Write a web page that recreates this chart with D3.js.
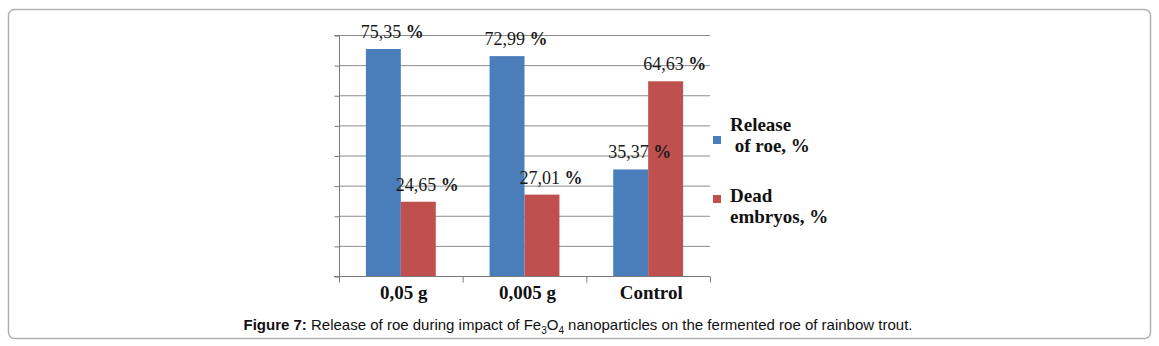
<!DOCTYPE html>
<html>
<head>
<meta charset="utf-8">
<script src="https://cdn.jsdelivr.net/npm/d3@7"></script>
<style>
  body { margin: 0; background: #fff; }
  svg { display: block; }
</style>
</head>
<body>
<div id="wrapper"></div>
<script>
// data
const categories = ["0,05 g", "0,005 g", "Control"]
const releaseOfRoe = [75.35, 72.99, 35.37]
const deadEmbryos = [24.65, 27.01, 64.63]
const valueLabels = [["75,35", "72,99", "35,37"], ["24,65", "27,01", "64,63"]]
const legendLines = [["Release", "\u00a0of roe, %"], ["Dead", "embryos, %"]]
const colors = ["#4a7ebb", "#c0504d"]

const width = 1159
const height = 346

const wrapper = d3.select("#wrapper")
    .append("svg")
    .attr("width", width)
    .attr("height", height)

// outer frame
wrapper.append("rect")
    .attr("x", 8.5)
    .attr("y", 9.5)
    .attr("width", 1142)
    .attr("height", 329)
    .attr("rx", 6)
    .attr("fill", "none")
    .attr("stroke", "#b0b0b0")
    .attr("stroke-width", 1.5)

const plot = { left: 339, right: 710, top: 35, bottom: 276 }

const x0 = d3.scaleBand()
    .domain(categories)
    .range([plot.left, plot.right])
    .paddingInner(0)
    .paddingOuter(0)

const x1 = d3.scaleBand()
    .domain([0, 1])
    .range([0, x0.bandwidth()])
    .paddingInner(0)
    .paddingOuter(0.77)

const y = d3.scaleLinear()
    .domain([0, 80])
    .range([plot.bottom, plot.top])

// gridlines
wrapper.append("g")
    .selectAll("line")
    .data(y.ticks(8).filter(d => d > 0))
    .join("line")
    .attr("x1", plot.left)
    .attr("x2", plot.right)
    .attr("y1", d => y(d) + 0.5)
    .attr("y2", d => y(d) + 0.5)
    .attr("stroke", "#8c8c8c")
    .attr("stroke-width", 1)

// y axis (no labels)
const yAxis = wrapper.append("g")
    .attr("transform", `translate(${plot.left + 0.5},0.5)`)
    .call(d3.axisLeft(y).ticks(8).tickSize(5).tickFormat(""))
yAxis.select(".domain").attr("stroke", "#7a7a7a").attr("d", `M-5,${plot.top}H0V${plot.bottom}H-5`)
yAxis.selectAll(".tick line").attr("stroke", "#7a7a7a")

// bars
const rows = categories.map((c, i) => ({ cat: c, vals: [releaseOfRoe[i], deadEmbryos[i]], labels: [valueLabels[0][i], valueLabels[1][i]] }))

const groups = wrapper.append("g")
    .selectAll("g")
    .data(rows)
    .join("g")
    .attr("transform", d => `translate(${x0(d.cat)},0)`)

groups.selectAll("rect")
    .data(d => d.vals.map((v, k) => ({ v: v, k: k })))
    .join("rect")
    .attr("x", d => x1(d.k))
    .attr("y", d => y(d.v))
    .attr("width", x1.bandwidth())
    .attr("height", d => y(0) - y(d.v))
    .attr("fill", d => colors[d.k])

// value labels
const lab = groups.selectAll("text")
    .data(d => d.vals.map((v, k) => ({ v: v, k: k, t: d.labels[k] })))
    .join("text")
    .attr("x", d => x1(d.k) + x1.bandwidth() / 2 + 9)
    .attr("y", d => y(d.v) - 11)
    .attr("text-anchor", "middle")
    .attr("font-family", "Liberation Serif, serif")
    .attr("font-size", "18px")
    .attr("fill", "#1a1a1a")
lab.append("tspan").text(d => d.t + " ")
lab.append("tspan").attr("font-weight", "bold").text("%")

// x axis
const xAxis = wrapper.append("g")
    .attr("transform", `translate(0,${plot.bottom + 0.5})`)
xAxis.append("line")
    .attr("x1", plot.left - 5)
    .attr("x2", plot.right)
    .attr("stroke", "#7a7a7a")
xAxis.selectAll("line.tk")
    .data(categories.map(c => x0(c)).concat([plot.right]))
    .join("line")
    .attr("class", "tk")
    .attr("x1", d => d + 0.5)
    .attr("x2", d => d + 0.5)
    .attr("y1", 0)
    .attr("y2", 6)
    .attr("stroke", "#7a7a7a")
xAxis.selectAll("text")
    .data(categories)
    .join("text")
    .attr("x", d => x0(d) + x0.bandwidth() / 2 + 3)
    .attr("y", 22)
    .attr("text-anchor", "middle")
    .attr("font-family", "Liberation Serif, serif")
    .attr("font-weight", "bold")
    .attr("font-size", "19px")
    .attr("fill", "#111")
    .text(d => d)

// legend
const legend = wrapper.append("g")
    .selectAll("g")
    .data(legendLines)
    .join("g")
    .attr("transform", (d, i) => `translate(713,${131 + i * 71})`)
legend.append("rect")
    .attr("x", 0)
    .attr("y", (d, i) => i === 0 ? 5 : -7)
    .attr("width", 8)
    .attr("height", 8)
    .attr("fill", (d, i) => colors[i])
legend.append("text")
    .attr("font-family", "Liberation Serif, serif")
    .attr("font-weight", "bold")
    .attr("font-size", "19px")
    .attr("fill", "#111")
    .each(function (d) {
        d3.select(this).selectAll("tspan")
            .data(d)
            .join("tspan")
            .attr("x", 17)
            .attr("dy", (t, j) => j === 0 ? 0 : 20.5)
            .text(t => t)
    })

// caption
const cap = wrapper.append("text")
    .attr("x", 578)
    .attr("y", 330)
    .attr("text-anchor", "middle")
    .attr("font-family", "Liberation Sans, Arial, sans-serif")
    .attr("font-size", "15px")
    .attr("fill", "#111")
cap.append("tspan").attr("font-weight", "bold").text("Figure 7: ")
cap.append("tspan").text("Release of roe during impact of Fe")
cap.append("tspan").attr("font-size", "10px").attr("dy", 4).text("3")
cap.append("tspan").attr("dy", -4).text("O")
cap.append("tspan").attr("font-size", "10px").attr("dy", 4).text("4")
cap.append("tspan").attr("dy", -4).text(" nanoparticles on the fermented roe of rainbow trout.")
</script>
</body>
</html>
